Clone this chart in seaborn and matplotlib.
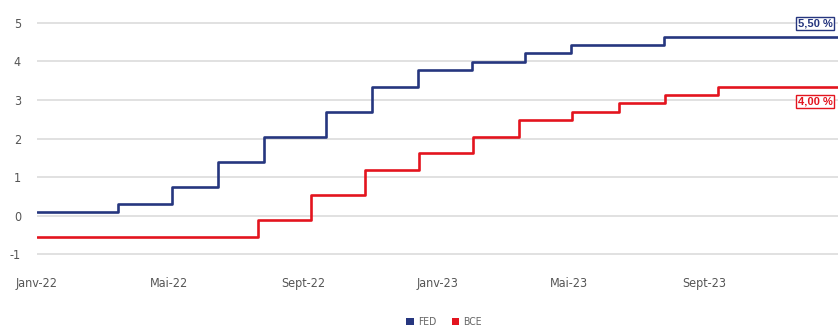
import matplotlib
matplotlib.use("Agg")
import matplotlib.pyplot as plt
from matplotlib.patches import Patch
import pandas as pd
import seaborn as sns

# Policy rate decisions (%), held until the next decision
fed_dates = ["2022-01-01", "2022-03-16", "2022-05-04", "2022-06-15", "2022-07-27",
             "2022-09-21", "2022-11-02", "2022-12-14", "2023-02-01", "2023-03-22",
             "2023-05-03", "2023-07-26", "2024-01-01"]
fed_rates = [0.25, 0.50, 1.00, 1.75, 2.50, 3.25, 4.00, 4.50, 4.75, 5.00, 5.25, 5.50, 5.50]

bce_dates = ["2022-01-01", "2022-07-21", "2022-09-08", "2022-10-27", "2022-12-15",
             "2023-02-02", "2023-03-16", "2023-05-04", "2023-06-15", "2023-07-27",
             "2023-09-14", "2024-01-01"]
bce_rates = [-0.50, 0.00, 0.75, 1.50, 2.00, 2.50, 3.00, 3.25, 3.50, 3.75, 4.00, 4.00]

banks = ["FED", "BCE"]
end_labels = ["5,50 %", "4,00 %"]

x_tick_dates = ["2022-01-01", "2022-05-01", "2022-09-01", "2023-01-01", "2023-05-01", "2023-09-01"]
x_tick_labels = ["Janv-22", "Mai-22", "Sept-22", "Janv-23", "Mai-23", "Sept-23"]
y_tick_labels = [-1, 0, 1, 2, 3, 4, 5]

# vertical scale of the graduated axis relative to the rates
AXIS_GAIN = 0.865
AXIS_SHIFT = -0.116

colors = {"FED": "#26367f", "BCE": "#e3141e"}

df = pd.concat([
    pd.DataFrame({"date": pd.to_datetime(fed_dates), "taux": fed_rates, "banque": "FED"}),
    pd.DataFrame({"date": pd.to_datetime(bce_dates), "taux": bce_rates, "banque": "BCE"}),
], ignore_index=True)

sns.set_theme(style="white")
plt.rcParams["font.family"] = ["DejaVu Sans"]
plt.rcParams["font.stretch"] = "condensed"

fig = plt.figure(figsize=(8.38, 3.29), dpi=100)
ax = fig.add_axes([37 / 838, 0.1976, 1 - 37 / 838, 0.9486 - 0.1976])

sns.lineplot(data=df, x="date", y="taux", hue="banque", palette=colors,
             hue_order=banks, drawstyle="steps-post", linewidth=1.9,
             estimator=None, legend=False, ax=ax, zorder=3)

def to_rate(k):
    return (k - AXIS_SHIFT) / AXIS_GAIN

ax.set_ylim(to_rate(-1.25), to_rate(5.15))
ax.set_yticks([to_rate(k) for k in y_tick_labels])
ax.set_yticklabels([str(k) for k in y_tick_labels])
ax.set_xlim(pd.Timestamp("2022-01-01"), pd.Timestamp("2024-01-01"))
ax.set_xticks(pd.to_datetime(x_tick_dates))
ax.set_xticklabels(x_tick_labels)

ax.set_xlabel("")
ax.set_ylabel("")
ax.yaxis.grid(True, color="#dedede", linewidth=1.3)
ax.xaxis.grid(False)
for s in ax.spines.values():
    s.set_visible(False)
ax.tick_params(axis="y", length=0, pad=11.5, labelsize=9, labelcolor="#555555")
ax.tick_params(axis="x", length=0, pad=9.5, labelsize=9, labelcolor="#555555")

# end-of-period value boxes
last_fed = df[df.banque == "FED"].iloc[-1]
last_bce = df[df.banque == "BCE"].iloc[-1]
for row, label, dy in [(last_fed, end_labels[0], 13), (last_bce, end_labels[1], -15)]:
    c = colors[row.banque]
    ax.annotate(label, xy=(row.date, row.taux), xytext=(-40, dy),
                textcoords="offset pixels", ha="left", va="center",
                fontsize=8, fontweight="bold", fontstretch="normal",
                family="Liberation Sans", color=c,
                bbox=dict(boxstyle="square,pad=0.15", fc="white", ec=c, lw=1.0),
                annotation_clip=False, zorder=5)

handles = [Patch(facecolor=colors[b], edgecolor="none") for b in banks]
fig.legend(handles, banks, loc="center", bbox_to_anchor=(0.53, 0.02), ncol=2,
           frameon=False, handlelength=0.7, handleheight=0.7, handletextpad=0.4,
           columnspacing=1.5, fontsize=7.5, labelcolor="#666666")

fig.savefig("out.png", dpi=100)
